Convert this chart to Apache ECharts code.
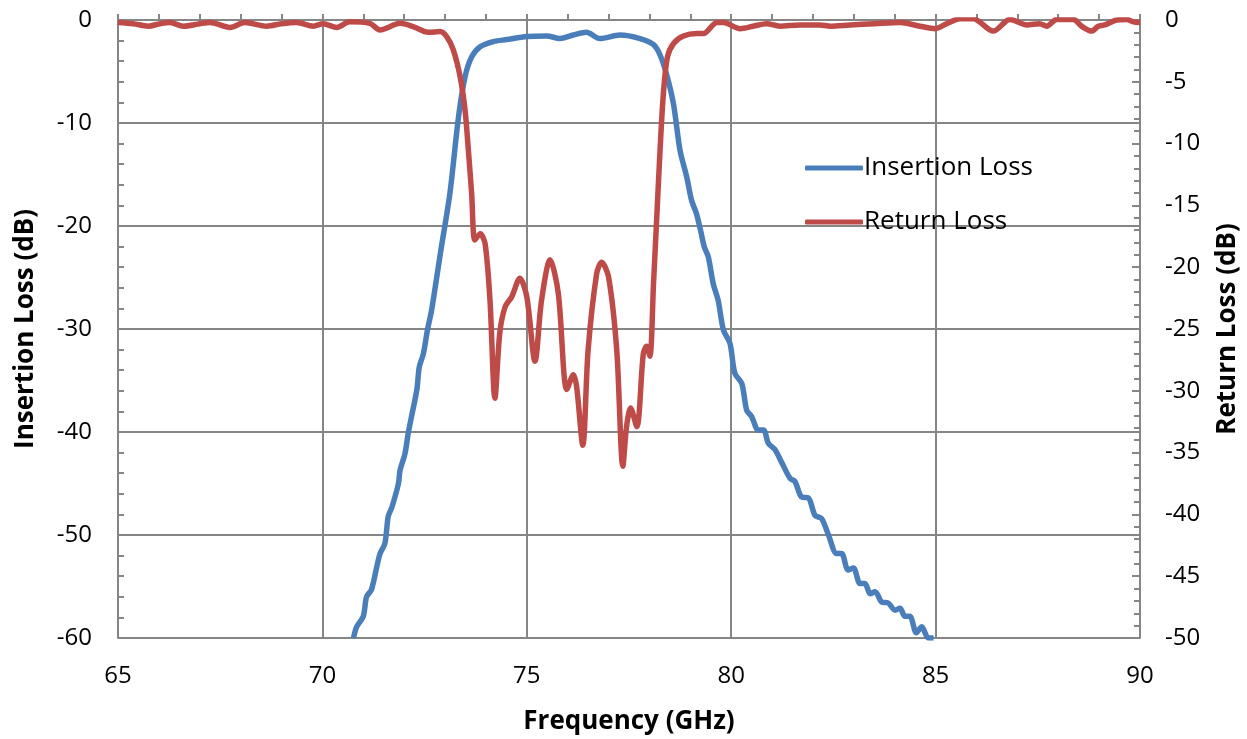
<!DOCTYPE html>
<html>
<head>
<meta charset="utf-8">
<script src="https://cdn.jsdelivr.net/npm/echarts@6/dist/echarts.min.js"></script>
<style>html,body{margin:0;padding:0;background:#fff}#c{width:1247px;height:739px}</style>
</head>
<body>
<div id="c"></div>
<script>
// Frequency axis ticks (GHz)
const xTicks = [65, 70, 75, 80, 85, 90];
// Insertion Loss (dB) samples: frequency / value
const ilFreq = [70.76, 70.84, 71.0, 71.08, 71.2, 71.33, 71.41, 71.53, 71.61, 71.70, 71.86, 71.90, 72.02, 72.10, 72.18, 72.31, 72.37, 72.47, 72.57, 72.67, 72.80, 72.90, 73.12, 73.33, 73.49, 73.65, 73.86, 74.18, 74.51, 75.0, 75.49, 75.81, 76.14, 76.46, 76.79, 77.28, 77.77, 78.10, 78.26, 78.42, 78.59, 78.75, 78.91, 79.03, 79.15, 79.26, 79.34, 79.44, 79.56, 79.68, 79.81, 79.97, 80.09, 80.26, 80.38, 80.50, 80.66, 80.79, 80.91, 81.07, 81.24, 81.44, 81.56, 81.72, 81.89, 82.05, 82.21, 82.38, 82.58, 82.70, 82.86, 82.99, 83.15, 83.27, 83.40, 83.52, 83.68, 83.84, 84.01, 84.13, 84.25, 84.37, 84.53, 84.66, 84.82, 84.95];
const ilVal = [-60.0, -58.9, -57.9, -56.0, -55.3, -53.1, -51.8, -50.8, -48.2, -47.3, -45.0, -43.7, -42.1, -40.1, -38.5, -35.9, -33.7, -32.4, -30.1, -28.2, -24.9, -22.3, -16.8, -9.4, -5.5, -3.6, -2.6, -2.1, -1.9, -1.6, -1.55, -1.8, -1.46, -1.2, -1.8, -1.46, -1.8, -2.4, -3.4, -5.3, -8.2, -12.7, -15.2, -17.5, -18.8, -20.6, -22.0, -23.0, -25.6, -27.2, -30.1, -31.4, -34.3, -35.3, -37.9, -38.5, -39.8, -39.8, -41.1, -41.7, -43.0, -44.5, -44.8, -46.3, -46.4, -48.1, -48.4, -50.0, -51.8, -51.8, -53.4, -53.2, -54.7, -54.7, -55.7, -55.5, -56.5, -56.6, -57.3, -57.1, -57.9, -57.9, -59.5, -58.9, -60.0, -60.0];
// Return Loss (dB) samples: frequency / value
const rlFreq = [65.0, 65.37, 65.74, 66.03, 66.27, 66.6, 67.0, 67.25, 67.74, 68.1, 68.64, 69.0, 69.37, 69.78, 70.02, 70.35, 70.67, 71.16, 71.41, 71.9, 72.22, 72.59, 72.88, 73.04, 73.2, 73.37, 73.49, 73.57, 73.65, 73.73, 73.86, 73.98, 74.1, 74.22, 74.34, 74.47, 74.63, 74.83, 75.0, 75.2, 75.36, 75.57, 75.77, 75.98, 76.14, 76.22, 76.37, 76.5, 76.71, 76.83, 77.0, 77.2, 77.35, 77.44, 77.54, 77.69, 77.85, 77.93, 78.01, 78.1, 78.18, 78.26, 78.34, 78.44, 78.59, 78.83, 79.16, 79.32, 79.65, 79.81, 80.22, 80.54, 80.87, 81.19, 81.68, 82.17, 82.42, 82.91, 83.5, 84.13, 84.62, 84.99, 85.27, 85.6, 85.92, 86.41, 86.82, 87.23, 87.55, 87.72, 87.96, 88.37, 88.57, 88.82, 88.98, 89.14, 89.43, 89.67, 89.84, 90.0];
const rlVal = [-0.2, -0.3, -0.5, -0.3, -0.2, -0.5, -0.3, -0.2, -0.6, -0.2, -0.5, -0.3, -0.2, -0.5, -0.3, -0.6, -0.15, -0.27, -0.8, -0.27, -0.54, -1.0, -0.94, -1.35, -2.4, -4.6, -7.3, -10.5, -14.0, -17.8, -17.3, -18.1, -22.7, -30.6, -25.3, -23.2, -22.4, -20.9, -22.4, -27.6, -22.7, -19.4, -22.1, -29.9, -28.7, -29.7, -34.4, -26.7, -20.5, -19.6, -20.8, -26.7, -36.1, -32.9, -31.4, -32.9, -27.0, -26.4, -27.2, -21.3, -15.9, -10.5, -6.0, -3.0, -1.9, -1.3, -1.1, -1.1, -0.2, -0.2, -0.7, -0.5, -0.3, -0.5, -0.4, -0.4, -0.5, -0.4, -0.3, -0.2, -0.5, -0.7, -0.3, 0.1, 0.1, -0.9, 0.05, -0.4, -0.3, -0.5, 0.05, 0.05, -0.5, -0.9, -0.5, -0.4, 0.0, 0.05, -0.15, -0.2];

const ilData = ilFreq.map((f, i) => [f, ilVal[i]]);
const rlData = rlFreq.map((f, i) => [f, rlVal[i]]);

const FONT = '"Open Sans"';
const GRAY = '#868686';
const chart = echarts.init(document.getElementById('c'), null, {renderer: 'canvas'});
chart.setOption({
  animation: false,
  backgroundColor: '#fff',
  textStyle: {fontFamily: FONT, color: '#000'},
  grid: {left: 118, right: 107, top: 20, bottom: 101, containLabel: false, outerBoundsMode: 'none'},
  legend: {
    orient: 'vertical',
    left: 800, top: 150,
    itemWidth: 58, itemHeight: 5, itemGap: 28,
    icon: 'roundRect',
    textStyle: {fontFamily: FONT, fontSize: 26, lineHeight: 26, color: '#000', padding: [0, 0, 0, -4]},
    data: ['Insertion Loss', 'Return Loss']
  },
  xAxis: {
    type: 'value', min: xTicks[0], max: xTicks[xTicks.length - 1], interval: 5,
    name: 'Frequency (GHz)', nameLocation: 'middle', nameGap: 71,
    nameTextStyle: {fontFamily: FONT, fontSize: 26, fontWeight: 'bold', color: '#000'},
    axisLine: {show: true, lineStyle: {color: GRAY, width: 2}},
    axisTick: {show: true, inside: true, length: 6, lineStyle: {color: GRAY, width: 2}},
    minorTick: {show: true, splitNumber: 5, length: 6, lineStyle: {color: GRAY, width: 2}},
    axisLabel: {fontFamily: FONT, fontSize: 24, color: '#000', margin: 26},
    splitLine: {show: true, lineStyle: {color: GRAY, width: 2}}
  },
  yAxis: [{
    type: 'value', min: -60, max: 0, interval: 10, position: 'left',
    name: 'Insertion Loss (dB)', nameLocation: 'middle', nameGap: 79, nameRotate: 90,
    nameTextStyle: {fontFamily: FONT, fontSize: 26, fontWeight: 'bold', color: '#000'},
    axisLine: {show: true, lineStyle: {color: GRAY, width: 2}},
    axisTick: {show: true, inside: true, length: 6, lineStyle: {color: GRAY, width: 2}},
    minorTick: {show: true, splitNumber: 5, length: 6, lineStyle: {color: GRAY, width: 2}},
    axisLabel: {fontFamily: FONT, fontSize: 24, color: '#000', margin: 26},
    splitLine: {show: true, lineStyle: {color: GRAY, width: 2}}
  }, {
    type: 'value', min: -50, max: 0, interval: 5, position: 'right',
    name: 'Return Loss (dB)', nameLocation: 'middle', nameGap: 75, nameRotate: 90,
    nameTextStyle: {fontFamily: FONT, fontSize: 26, fontWeight: 'bold', color: '#000'},
    axisLine: {show: true, lineStyle: {color: GRAY, width: 2}},
    axisTick: {show: true, inside: true, length: 8, lineStyle: {color: GRAY, width: 2}},
    minorTick: {show: true, splitNumber: 5, length: 6, lineStyle: {color: GRAY, width: 2}},
    axisLabel: {fontFamily: FONT, fontSize: 24, color: '#000', margin: 25},
    splitLine: {show: false}
  }],
  series: [{
    name: 'Insertion Loss', type: 'line', yAxisIndex: 0, data: ilData,
    showSymbol: false, smooth: 0.3, clip: true,
    lineStyle: {color: '#4a7ebb', width: 5.5},
    itemStyle: {color: '#4a7ebb'}
  }, {
    name: 'Return Loss', type: 'line', yAxisIndex: 1, data: rlData,
    showSymbol: false, smooth: 0.3, clip: true,
    lineStyle: {color: '#be4b48', width: 5.5},
    itemStyle: {color: '#be4b48'}
  }]
});
</script>
</body>
</html>
